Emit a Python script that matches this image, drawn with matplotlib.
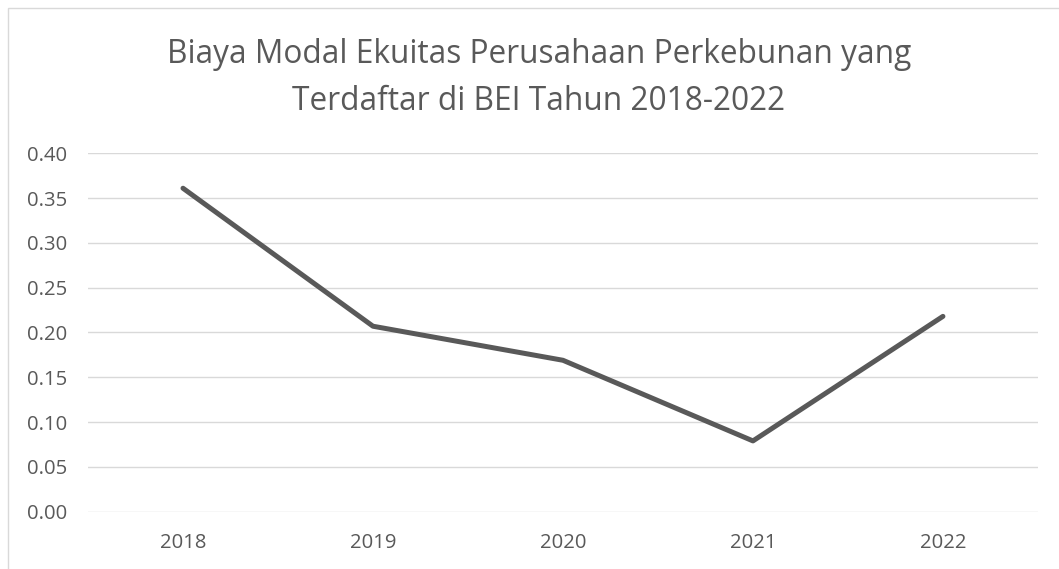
import matplotlib.pyplot as plt
from matplotlib.patches import Rectangle

years = ['2018', '2019', '2020', '2021', '2022']
biaya_modal = [0.361, 0.207, 0.169, 0.079, 0.218]
yticks = [0.00, 0.05, 0.10, 0.15, 0.20, 0.25, 0.30, 0.35, 0.40]

plt.rcParams['font.family'] = ['Open Sans', 'DejaVu Sans']
txt = '#595959'

fig = plt.figure(figsize=(10.59, 5.69), dpi=100)
ax = fig.add_axes([0.0831, 0.1007, 0.8970, 0.6299])

x = range(len(years))
ax.plot(x, biaya_modal, color='#595959', linewidth=3.6,
        solid_capstyle='round', solid_joinstyle='round', clip_on=False, zorder=3)

ax.set_xlim(-0.5, len(years) - 0.5)
ax.set_ylim(0, 0.40)
ax.set_yticks(yticks)
ax.set_yticklabels(['%.2f' % v for v in yticks])
ax.set_xticks(list(x))
ax.set_xticklabels(years)
ax.tick_params(axis='both', length=0, labelsize=14.6, colors=txt)
ax.tick_params(axis='y', pad=15)
ax.tick_params(axis='x', pad=15)
ax.grid(axis='y', color='#d9d9d9', linewidth=1.0)
ax.set_axisbelow(True)
for s in ax.spines.values():
    s.set_visible(False)

# title, two lines placed by baseline
fig.text(0.509, 1 - 63 / 569, 'Biaya Modal Ekuitas Perusahaan Perkebunan yang',
         ha='center', va='baseline', fontsize=22.8, color=txt)
fig.text(0.509, 1 - 110 / 569, 'Terdaftar di BEI Tahun 2018-2022',
         ha='center', va='baseline', fontsize=22.8, color=txt)

fig.patches.append(Rectangle((8 / 1059, -0.05), 1.1, 1.036, transform=fig.transFigure,
                             fill=False, edgecolor='#d9d9d9', linewidth=1.0))

fig.savefig('out.png', dpi=100)
